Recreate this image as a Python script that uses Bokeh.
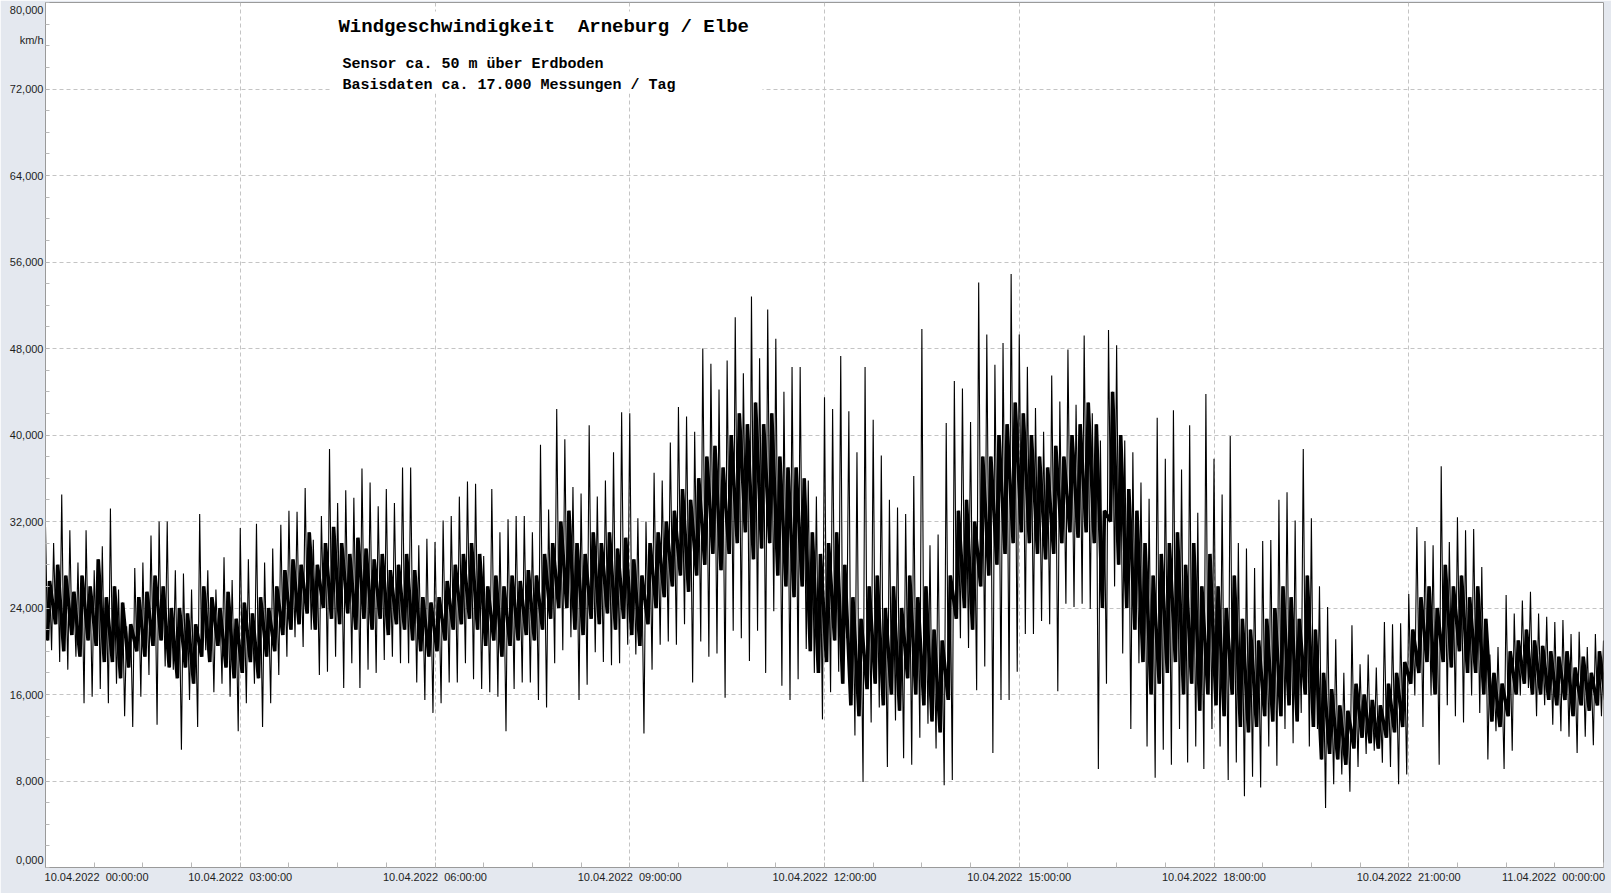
import numpy as np
from bokeh.plotting import figure
from bokeh.models import FixedTicker, Label, BoxAnnotation
from bokeh.embed import file_html
from bokeh.resources import INLINE

# ---------------- data ----------------
DAY_START = "2022-04-10T00:00:00"
STEP_MINUTES = 7.5  # per step: spike top, core low, core high, spike bottom

# spike tops (km/h) per 7.5-minute step, 00:00 .. 24:00
peaks = [
    31500, 30000, 34500, 31200, 28200, 31200, 27500, 29700, 33200, 25700,
    22300, 27700, 28200, 30700, 32000, 32000, 27500, 27200, 25700, 32700,
    27500, 25700, 28700, 26600, 31400, 28500, 31800, 28200, 29500, 31700,
    33000, 32900, 35100, 30300, 32500, 38700, 33700, 34900, 34200, 36900,
    35600, 33400, 35000, 33700, 37000, 37000, 29800, 30400, 30100, 32100,
    32500, 34300, 35700, 35500, 28800, 35000, 31000, 32200, 32500, 32500,
    31000, 39100, 33100, 42400, 39600, 35200, 34600, 40900, 34300, 35800,
    38400, 42100, 42000, 32300, 32000, 36500, 35800, 39300, 42600, 41700,
    40300, 48000, 46600, 44200, 46900, 50900, 45700, 52800, 47100, 51600,
    48900, 44000, 46300, 46300, 35800, 34300, 43500, 42400, 47300, 42200,
    38400, 46300, 41400, 38100, 34000, 33300, 32700, 36200, 49800, 29800,
    30800, 41100, 45000, 44300, 41200, 54100, 49300, 46500, 48500, 54900,
    49300, 46300, 42500, 40300, 45500, 43100, 47900, 42800, 49200, 42000,
    39500, 49700, 48300, 39500, 38400, 35600, 34100, 41600, 37800, 42300,
    36800, 40900, 32800, 43800, 37800, 34500, 39900, 30000, 29500, 27700,
    30200, 30300, 34000, 34700, 32100, 38700, 32300, 26000, 24100, 21100,
    18000, 22400, 18800, 19700, 18500, 22700, 22500, 22600, 25300, 31500,
    30200, 29800, 37100, 30100, 32400, 31200, 31300, 27800, 19700, 20400,
    25200, 23500, 24700, 25500, 23500, 23200, 22700, 22900, 21600, 21800,
    20400, 21600, 21000,
]

# spike bottoms (km/h) per step
troughs = [
    20100, 19000, 18300, 19500, 15200, 15800, 16500, 15200, 17000, 14000,
    13000, 15800, 17800, 13200, 18600, 18300, 10900, 15500, 13000, 20100,
    16200, 17000, 15800, 12600, 15200, 17000, 13000, 15200, 17800, 19500,
    21300, 20400, 22000, 17800, 18100, 19500, 16600, 18900, 16600, 18300,
    18000, 19200, 19500, 18900, 18900, 17100, 15500, 14300, 15200, 17100,
    17100, 18900, 17400, 16500, 16200, 15800, 12600, 16500, 17100, 17100,
    15500, 14800, 18900, 20100, 21300, 15500, 16900, 19900, 19000, 18700,
    18900, 20600, 19700, 12400, 18300, 20600, 20900, 20600, 22500, 17100,
    20900, 19500, 19800, 15700, 21900, 21200, 19100, 21900, 18000, 23700,
    16800, 15500, 17400, 20200, 18000, 13700, 16200, 18100, 21200, 12200,
    7900, 13400, 14800, 9300, 13600, 10100, 9500, 12000, 13300, 11000,
    7600, 8100, 21200, 20300, 16400, 18600, 10600, 15500, 15500, 18100,
    21600, 21600, 22800, 22500, 16300, 24400, 24100, 24400, 23900, 9100,
    17000, 26000, 19800, 12800, 18900, 11200, 8300, 10900, 9500, 12800,
    9700, 11200, 9100, 12800, 11200, 8100, 9700, 6600, 8400, 7400,
    11200, 9400, 12800, 11500, 14300, 11200, 12800, 5500, 7700, 8600,
    7000, 9300, 10500, 10800, 9700, 9300, 7700, 8600, 15900, 13000,
    15900, 9500, 15000, 14000, 13400, 15900, 14300, 10000, 12600, 9100,
    10800, 15900, 16600, 14000, 15000, 13200, 12600, 12100, 10600, 12100,
    11300, 14000, 14700,
]

# upper edge of the dense black core per step
core_high = [
    26500, 28000, 27000, 25500, 27000, 26000, 28500, 25000, 26000, 24500,
    22500, 25000, 25500, 27000, 26000, 24000, 24000, 23500, 22500, 26000,
    25000, 24000, 25500, 23000, 24500, 23500, 25000, 24000, 26000, 27500,
    28500, 28000, 31000, 28000, 30000, 31500, 30000, 29000, 30500, 29500,
    28500, 29000, 27500, 28000, 29000, 27500, 25000, 24500, 25000, 26500,
    28000, 29000, 30000, 29000, 26000, 27000, 26000, 27000, 26500, 27500,
    27000, 29000, 30000, 32000, 33000, 30000, 29000, 31000, 30000, 31000,
    29500, 30500, 28500, 27000, 30000, 31000, 32000, 33000, 35000, 34000,
    36000, 38000, 39000, 37000, 40000, 42000, 41000, 43000, 41000, 42000,
    38000, 37000, 37000, 36000, 31000, 29000, 30000, 31000, 28000, 25000,
    23000, 26000, 27000, 24000, 26000, 24000, 27000, 25000, 26000, 22000,
    21000, 27000, 33000, 34000, 32000, 38000, 38000, 40000, 41000, 43000,
    42000, 40000, 38000, 37000, 39000, 38000, 40000, 41000, 43000, 41000,
    33000, 44000, 40000, 35000, 33000, 30000, 27000, 29000, 30000, 31000,
    28000, 30000, 26000, 29000, 26000, 24000, 27000, 23000, 22000, 21000,
    23000, 24000, 26000, 25000, 23000, 27000, 22000, 18000, 16500, 15000,
    14500, 17000, 16000, 15500, 15000, 17000, 18000, 19000, 22000, 25000,
    26000, 24000, 28000, 26000, 27000, 25000, 26000, 23000, 18000, 17000,
    20000, 21000, 22000, 21000, 20500, 20000, 19500, 20000, 18500, 19500,
    18000, 20000, 19500,
]

# lower edge of the dense black core per step
core_low = [
    21000, 22500, 20000, 21500, 19500, 21000, 20500, 19000, 19000, 17500,
    18500, 20000, 19500, 20500, 21000, 18500, 17500, 18500, 17000, 19500,
    19000, 20500, 18500, 17500, 18000, 19000, 17500, 19500, 20000, 21500,
    22000, 22500, 23500, 22000, 24000, 23000, 22500, 23500, 22000, 23000,
    22000, 23000, 21500, 22500, 22000, 21000, 20000, 19500, 20000, 21000,
    22000, 22500, 23000, 22000, 20500, 21000, 19500, 20500, 21000, 21500,
    21000, 22000, 23000, 24000, 24000, 22000, 21500, 23000, 22500, 23500,
    22000, 23000, 21500, 20500, 22500, 24000, 25000, 26000, 27000, 25500,
    27000, 28000, 29000, 27500, 29000, 30000, 31000, 28500, 29500, 30000,
    27000, 26000, 25000, 26000, 20000, 18000, 19000, 21000, 17000, 15000,
    14000, 16500, 17000, 15000, 16000, 14500, 17500, 16000, 15000, 13500,
    12500, 15500, 23000, 24000, 22000, 26000, 27000, 28000, 29000, 30000,
    31000, 30000, 29000, 28500, 29000, 30000, 31000, 30500, 31000, 30000,
    24000, 32000, 28000, 24000, 22000, 19000, 16000, 17000, 18000, 19000,
    16000, 17000, 14500, 16000, 15000, 14000, 16000, 13000, 12500, 13000,
    14000, 13500, 14000, 15000, 13500, 16000, 13000, 10000, 10500, 10000,
    9500, 11000, 12000, 11500, 11000, 12000, 12500, 13000, 17000, 18000,
    19000, 16000, 19000, 18500, 20000, 18000, 18000, 16000, 13500, 13000,
    14000, 16000, 17000, 16000, 16000, 15500, 15000, 15500, 14000, 15000,
    14500, 15000, 15500,
]

y_tick_values = [0, 8000, 16000, 24000, 32000, 40000, 48000, 56000, 64000, 72000, 80000]
y_tick_labels = ["0,000", "8,000", "16,000", "24,000", "32,000", "40,000",
                 "48,000", "56,000", "64,000", "72,000", "80,000"]
x_tick_hours = [0, 3, 6, 9, 12, 15, 18, 21, 24]
x_tick_labels = [
    "10.04.2022 \u00a000:00:00", "10.04.2022 \u00a003:00:00", "10.04.2022 \u00a006:00:00",
    "10.04.2022 \u00a009:00:00", "10.04.2022 \u00a012:00:00", "10.04.2022 \u00a015:00:00",
    "10.04.2022 \u00a018:00:00", "10.04.2022 \u00a021:00:00", "11.04.2022 \u00a000:00:00",
]

TITLE = "Windgeschwindigkeit \u00a0Arneburg / Elbe"
SUB1 = "Sensor ca. 50 m über Erdboden"
SUB2 = "Basisdaten ca. 17.000 Messungen / Tag"
UNIT = "km/h"

# ---------------- build ----------------
H = 3600000  # ms per hour
t0 = int(np.datetime64(DAY_START, "ms").astype(np.int64))
step = STEP_MINUTES * 60000

zx, zy = [], []   # full trace: spike top, core low, core high, spike bottom
cx, cy = [], []   # the dense core only
for i in range(len(peaks)):
    base = t0 + i * step
    zx += [base, base + step / 4, base + step / 2, base + 3 * step / 4]
    zy += [peaks[i], core_low[i], core_high[i], troughs[i]]
    cx += [base + step / 4, base + step / 2]
    cy += [core_low[i], core_high[i]]

p = figure(width=1611, height=893, x_axis_type="datetime",
           x_range=(t0, t0 + 24 * H), y_range=(0, 80000),
           output_backend="svg", toolbar_location=None,
           min_border_left=45, min_border_right=8, min_border_top=2,
           min_border_bottom=26)
p.border_fill_color = "#e4e8ef"
p.background_fill_color = "white"
p.outline_line_color = "#9a9a9a"

p.line(cx, cy, line_color="black", line_width=3.6)
p.line(zx, zy, line_color="black", line_width=1.1)

# label anchors (first / last labels pulled inside like the original)
UNIT_POS = 76490
y_label_pos = [650] + y_tick_values[1:-1] + [79340, UNIT_POS]
y_label_txt = y_tick_labels + [UNIT]
x_label_hours = [0.786] + x_tick_hours[1:-1] + [23.23]
x_label_pos = [t0 + int(round(h * H)) for h in x_label_hours]

p.yaxis.ticker = FixedTicker(ticks=y_label_pos, minor_ticks=list(range(0, 80001, 2000)))
p.yaxis.major_label_overrides = dict(zip(y_label_pos, y_label_txt))
p.xaxis.ticker = FixedTicker(ticks=x_label_pos,
                             minor_ticks=[t0 + k * 45 * 60000 for k in range(33)])
p.xaxis.major_label_overrides = dict(zip(x_label_pos, x_tick_labels))

p.xgrid.ticker = FixedTicker(ticks=[t0 + h * H for h in x_tick_hours[1:-1]])
p.ygrid.ticker = FixedTicker(ticks=y_tick_values[1:-1])
for g in (p.xgrid, p.ygrid):
    g.grid_line_color = "#c4c4c4"
    g.grid_line_dash = "4 3"
    g.grid_line_width = 1

for ax in (p.xaxis, p.yaxis):
    ax.axis_line_color = "#9a9a9a"
    ax.major_tick_in = 0
    ax.major_tick_out = 0
    ax.minor_tick_out = 0
    ax.minor_tick_line_color = "#b8b8b8"
    ax.major_label_text_font = "Liberation Sans"
    ax.major_label_text_font_size = "11px"
    ax.major_label_text_color = "#1e1e1e"
p.yaxis.minor_tick_in = 4
p.xaxis.minor_tick_in = 5
p.yaxis.major_label_standoff = 2
p.xaxis.major_label_standoff = 3

# white panel behind the heading
p.add_layout(BoxAnnotation(left=t0 + 4.390 * H, right=t0 + 11.045 * H,
                           bottom=71590, top=79170, fill_color="white",
                           fill_alpha=1.0, line_alpha=0, level="underlay"))

p.add_layout(Label(x=t0 + 4.513 * H, y=77690, text=TITLE, text_font="Liberation Mono",
                   text_font_style="bold", text_font_size="19px",
                   text_baseline="middle", text_color="black"))
p.add_layout(Label(x=t0 + 4.575 * H, y=74270, text=SUB1, text_font="Liberation Mono",
                   text_font_style="bold", text_font_size="15px",
                   text_baseline="middle", text_color="black"))
p.add_layout(Label(x=t0 + 4.575 * H, y=72330, text=SUB2, text_font="Liberation Mono",
                   text_font_style="bold", text_font_size="15px",
                   text_baseline="middle", text_color="black"))

open("out.html", "w").write(file_html(p, INLINE))
